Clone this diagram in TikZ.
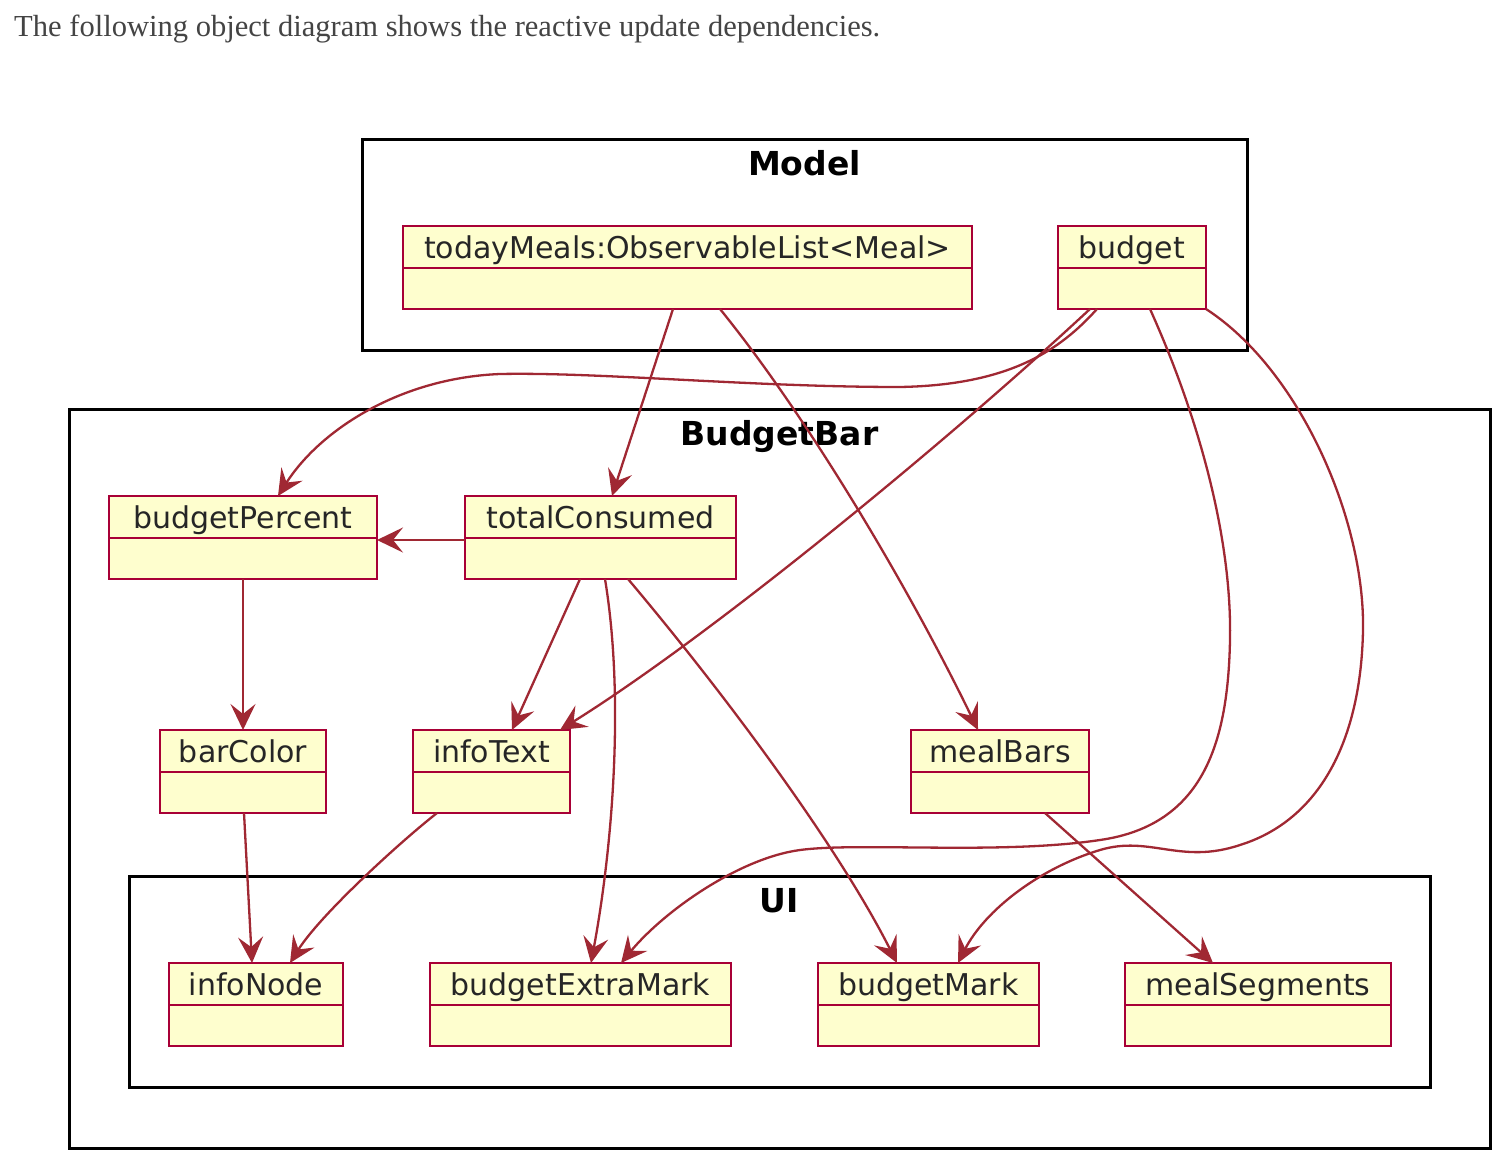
\documentclass[tikz,border=0pt]{standalone}
\usepackage{fontspec}
\setmainfont{DejaVu Sans}
\newfontfamily\introfont{Liberation Serif}
\usetikzlibrary{arrows.meta}
\definecolor{objfill}{HTML}{FEFECE}
\definecolor{objborder}{HTML}{A80036}
\definecolor{arrowc}{HTML}{A02833}
\definecolor{introgray}{HTML}{444444}
\tikzset{
  objbox/.style={draw=objborder, fill=objfill, line width=2.8pt, inner sep=0pt, outer sep=0pt, minimum height=83pt},
  objdivider/.style={draw=objborder, line width=2.8pt},
  objlabel/.style={font=\fontsize{30}{36}\selectfont, text=black!85, inner sep=0pt, anchor=base},
  pkgframe/.style={draw=black, line width=3pt, inner sep=0pt, outer sep=0pt},
  pkglabel/.style={font=\bfseries\fontsize{33}{40}\selectfont, inner sep=0pt, anchor=base},
  dep/.style={draw=arrowc, line width=2.3pt, -{Stealth[length=26pt,width=25pt,inset=10pt]}},
}
\newcommand\uobj[5]{%
  \node[objbox, minimum width={#4-#2}, anchor=north] (#1) at ({(#2+#4)/2},#3) {};
  \draw[objdivider] ([yshift=-42pt]#1.north west) -- ([yshift=-42pt]#1.north east);
  \node[objlabel] (#1-label) at ([yshift=-32pt]#1.north) {#5};}
\newcommand\upkg[6]{%
  \node[pkgframe, minimum width={#4-#2}, minimum height={#5-#3}] (#1) at ({(#2+#4)/2},{(#3+#5)/2}) {};
  \node[pkglabel] (#1-label) at ([yshift=-36pt]#1.north) {#6};}
\begin{document}
\begin{tikzpicture}[x=1pt,y=-1pt]
\fill[white] (0,0) rectangle (1508,1172);
\useasboundingbox (0,0) rectangle (1508,1172);
\node[anchor=base west, inner sep=0pt, text=introgray] (intro) at (14,37)
  {\resizebox{866pt}{!}{\introfont The following object diagram shows the reactive update dependencies.}};
% packages
\upkg{model}{362}{139}{1247}{350}{Model}
\upkg{bb}{69}{409}{1490}{1148}{BudgetBar}
\upkg{ui}{129}{876}{1430}{1087}{UI}
% objects
\uobj{meals}{403}{226}{972}{todayMeals:ObservableList<Meal>}
\uobj{budget}{1058}{226}{1206}{budget}
\uobj{bpct}{109}{496}{377}{budgetPercent}
\uobj{total}{465}{496}{736}{totalConsumed}
\uobj{barcol}{160}{730}{326}{barColor}
\uobj{info}{413}{730}{570}{infoText}
\uobj{mbars}{911}{730}{1089}{mealBars}
\uobj{inode}{169}{963}{343}{infoNode}
\uobj{bextra}{430}{963}{731}{budgetExtraMark}
\uobj{bmark}{818}{963}{1039}{budgetMark}
\uobj{mseg}{1125}{963}{1391}{mealSegments}
% dependencies
\draw[dep] ([xshift=-14.5pt]meals.south) -- ([xshift=11.5pt]total.north);
\draw[dep] ([xshift=32.5pt]meals.south) .. controls (810,420) and (910,590) .. ([xshift=-22pt]mbars.north);
\draw[dep] ([xshift=-35pt]budget.south) .. controls (1060,350) and (1010,385) .. (900,387)
  .. controls (750,387) and (600,372) .. (500,374)
  .. controls (400,378) and (320,430) .. ([xshift=35pt]bpct.north);
\draw[dep] ([xshift=-42pt]budget.south) .. controls (960,430) and (720,630) .. ([xshift=68.5pt]info.north);
\draw[dep] ([xshift=18pt]budget.south) .. controls (1200,420) and (1232,540) .. (1230,640)
  .. controls (1228,740) and (1205,825) .. (1100,840)
  .. controls (1000,855) and (860,842) .. (800,850)
  .. controls (740,858) and (665,910) .. ([xshift=40.5pt]bextra.north);
\draw[dep] (budget.south east) .. controls (1300,370) and (1365,520) .. (1363,630)
  .. controls (1361,740) and (1320,820) .. (1240,845)
  .. controls (1180,865) and (1150,835) .. (1100,850)
  .. controls (1040,868) and (985,910) .. ([xshift=29.5pt]bmark.north);
\draw[dep] ([yshift=-44pt]total.north west) -- ([yshift=-44pt]bpct.north east);
\draw[dep] ([xshift=-20.5pt]total.south) -- ([xshift=20.5pt]info.north);
\draw[dep] ([xshift=4.5pt]total.south) .. controls (625,700) and (612,850) .. ([xshift=10.5pt]bextra.north);
\draw[dep] ([xshift=27.5pt]total.south) .. controls (730,700) and (840,850) .. ([xshift=-31.5pt]bmark.north);
\draw[dep] (bpct.south) -- (barcol.north);
\draw[dep] ([xshift=1pt]barcol.south) -- ([xshift=-4pt]inode.north);
\draw[dep] ([xshift=-54.5pt]info.south) .. controls (400,842) and (320,915) .. ([xshift=34pt]inode.north);
\draw[dep] ([xshift=45pt]mbars.south) -- ([xshift=-45pt]mseg.north);
\end{tikzpicture}
\end{document}
